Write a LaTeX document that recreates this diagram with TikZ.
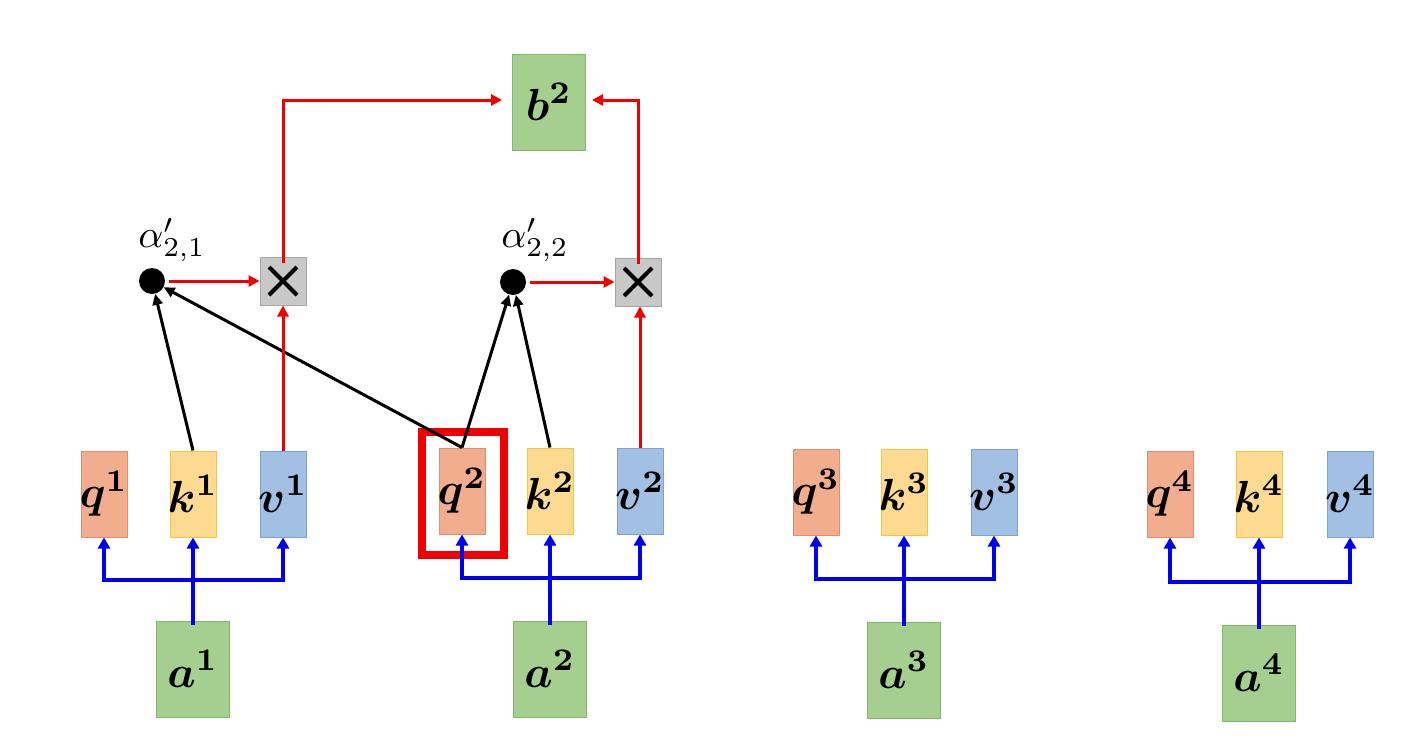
\documentclass[tikz,border=0pt]{standalone}
\usepackage{graphicx}
\usepackage{amsmath,bm}
\usetikzlibrary{arrows.meta}
\definecolor{qfill}{RGB}{242,172,142}
\definecolor{qdraw}{RGB}{228,140,110}
\definecolor{kfill}{RGB}{255,218,145}
\definecolor{kdraw}{RGB}{250,195,60}
\definecolor{vfill}{RGB}{162,192,228}
\definecolor{vdraw}{RGB}{125,162,210}
\definecolor{gfill}{RGB}{164,207,142}
\definecolor{gdraw}{RGB}{128,186,104}
\definecolor{xfill}{RGB}{200,200,200}
\definecolor{xdraw}{RGB}{165,165,165}
\definecolor{bl}{RGB}{0,0,240}
\definecolor{rd}{RGB}{240,0,0}
\tikzset{
  vec/.style={minimum width=46pt, minimum height=86pt, inner sep=0pt, line width=1pt},
  qbox/.style={vec, fill=qfill, draw=qdraw},
  kbox/.style={vec, fill=kfill, draw=kdraw},
  vbox/.style={vec, fill=vfill, draw=vdraw},
  gbox/.style={vec, minimum width=73pt, minimum height=96pt, fill=gfill, draw=gdraw},
  xbox/.style={minimum width=46pt, minimum height=48pt, inner sep=0pt, fill=xfill, draw=xdraw, line width=1pt},
  dot/.style={circle, fill=black, minimum size=26pt, inner sep=0pt},
  blue arr/.style={bl, line width=3.5pt, -{Triangle[length=11pt,width=12pt]}},
  blue line/.style={bl, line width=3.5pt},
  red arr/.style={rd, line width=3pt, -{Triangle[length=11pt,width=11pt]}},
  black arr/.style={black, line width=3pt, -{Triangle[length=11pt,width=10pt]}},
  lab/.style={inner sep=0pt},
}
\newcommand{\vlab}[2]{\makebox[0pt]{\scalebox{4.5}{$\bm{#1}^{\mathbf{#2}}$}}}
\newcommand{\alab}[1]{\scalebox{3.9}{$\alpha'_{#1}$}}
\newcommand{\bigx}{\tikz[x=1pt,y=1pt]{\draw[line width=4pt] (-14,-14) -- (14,14) (-14,14) -- (14,-14);}}
\begin{document}
\begin{tikzpicture}[x=1pt,y=-1pt]
\useasboundingbox (0,0) rectangle (1402,744);
% group 1
\node[qbox] (q1) at (104,494) {\vlab{q}{1}};
\node[kbox] (k1) at (193,494) {\vlab{k}{1}};
\node[vbox] (v1) at (283,494) {\vlab{v}{1}};
\node[gbox] (a1) at (193,669) {\vlab{a}{1}};
% group 2
\node[qbox] (q2) at (462,491) {\vlab{q}{2}};
\node[kbox] (k2) at (550,491) {\vlab{k}{2}};
\node[vbox] (v2) at (640,491) {\vlab{v}{2}};
\node[gbox] (a2) at (550,669) {\vlab{a}{2}};
% group 3
\node[qbox] (q3) at (816,492) {\vlab{q}{3}};
\node[kbox] (k3) at (904,492) {\vlab{k}{3}};
\node[vbox] (v3) at (994,492) {\vlab{v}{3}};
\node[gbox] (a3) at (904,670) {\vlab{a}{3}};
% group 4
\node[qbox] (q4) at (1170,494) {\vlab{q}{4}};
\node[kbox] (k4) at (1259,494) {\vlab{k}{4}};
\node[vbox] (v4) at (1350,494) {\vlab{v}{4}};
\node[gbox] (a4) at (1259,673) {\vlab{a}{4}};
% output
\node[gbox] (b2) at (549,102) {\vlab{b}{2}};
% highlight frame
\draw[rd, line width=8pt] (422,432) rectangle (504,555);
% blue connectors
\coordinate (j1) at (193,580);
\coordinate (j2) at (550,578);
\coordinate (j3) at (904,579);
\coordinate (j4) at (1259,582);
\foreach \a/\j/\q/\k/\v in {a1/j1/q1/k1/v1, a2/j2/q2/k2/v2, a3/j3/q3/k3/v3, a4/j4/q4/k4/v4}{
  \draw[blue line] ([yshift=-4pt]\a.north) -- (\j);
  \draw[blue arr] (\j) -| (\q.south);
  \draw[blue arr] (\j) -| (\v.south);
  \draw[blue arr] (\j) -- (\j |- \k.south);
}
% attention nodes
\node[dot] (d1) at (152,281) {};
\node[dot] (d2) at (513,282) {};
\node[lab] (l1) at (172,240) {\alab{2,1}};
\node[lab] (l2) at (535,240) {\alab{2,2}};
\node[xbox] (x1) at (283,281) {\bigx};
\node[xbox] (x2) at (638,282) {\bigx};
% black arrows
\draw[black arr] (k1.north) -- (d1);
\draw[black arr] (q2.north) -- (d1);
\draw[black arr] (q2.north) -- (d2);
\draw[black arr] (k2.north) -- (d2);
% red arrows
\draw[red arr] ([xshift=4pt]d1.east) -- (d1.east -| x1.west);
\draw[red arr] ([xshift=4pt]d2.east) -- (d2.east -| x2.west);
\draw[red arr] (v1.north) -- (x1.south);
\draw[red arr] (v2.north) -- (v2.north |- x2.south);
\coordinate (c1) at (283,100);
\coordinate (c2) at (638,100);
\draw[red arr, shorten >=10pt] ([yshift=-6pt]x1.north) -- (c1) -- (c1 -| b2.west);
\draw[red arr, shorten >=6pt] ([yshift=-6pt]x2.north) -- (c2) -- (c2 -| b2.east);
\end{tikzpicture}
\end{document}
